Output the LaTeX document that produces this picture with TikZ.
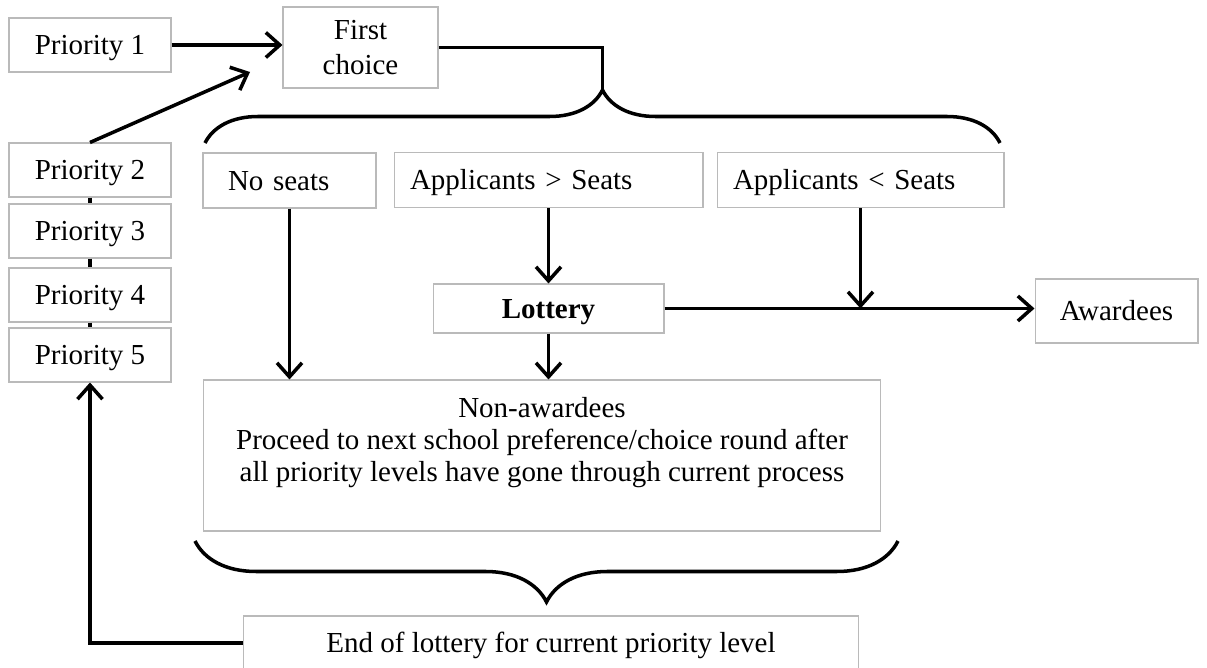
\documentclass[tikz,border=0pt]{standalone}
\usepackage{fontspec}
\setmainfont{Liberation Serif}
\usetikzlibrary{arrows.meta,decorations.pathreplacing}
\begin{document}
\begin{tikzpicture}[x=0.02cm, y=-0.02cm]

        % Styles
        \tikzstyle{box}=[draw=black!27, line width=0.6pt, inner sep=0pt, font=\fontsize{16.5}{19.5}\selectfont]
        \tikzstyle{one line}=[text height=13.4pt, text depth=2.5pt]
        \tikzstyle{priority}=[box, one line, minimum width=3.24cm, minimum height=1.08cm]
        \tikzstyle{case}=[box, one line, minimum height=1.1cm, align=left]
        \tikzstyle{important line}=[line width=2pt]
        \tikzstyle{flow}=[important line, -{Straight Barb[length=2.8mm,width=5mm]}]
        \tikzstyle{bracket}=[important line, decorate]
        %The graphic
        \useasboundingbox (0,0) rectangle (1207,668);
        % priority levels
        \node[priority] (p1) at (90,45) {Priority 1};
        \node[priority] (p2) at (90,170) {Priority 2};
        \node[priority] (p3) at (90,231) {Priority 3};
        \node[priority] (p4) at (90,295) {Priority 4};
        \node[priority] (p5) at (90,355) {Priority 5};
        \node[box, minimum width=3.1cm, minimum height=1.62cm, align=center] (first) at (360.5,47.5) {First\\choice};
        % cases
        \node[case, text width=2.46cm, inner xsep=0.5cm] (noseats) at (289.5,180.5) {No seats};
        \node[case, text width=5.54cm, inner xsep=0.32cm] (more) at (548.5,180) {Applicants > Seats};
        \node[case, text width=5.1cm, inner xsep=0.32cm] (fewer) at (860.5,180) {Applicants < Seats};
        \node[box, one line, minimum width=4.62cm, minimum height=0.98cm] (lottery) at (548.5,308.5) {\textbf{Lottery}};
        \node[box, one line, minimum width=3.26cm, minimum height=1.28cm] (award) at (1116.5,311) {Awardees};
        \node[box, minimum width=13.56cm, minimum height=3.02cm] (nonaward) at (542,455.5) {};
        \node[align=center, font=\fontsize{16.5}{18.2}\selectfont] (nonawardtext) at (542,443) {Non-awardees\\Proceed to next school preference/choice round after\\all priority levels have gone through current process};
        \node[box, one line, minimum width=12.32cm, minimum height=1.08cm] (endlot) at (551,643) {End of lottery for current priority level};

        % connectors
        \coordinate (firstin) at (250,72);
        \coordinate (toptip) at (602.5,90);
        \draw[flow] (p1.east) -- (p1.east -| first.west);
        \draw[flow] (p2.north) -- (firstin);
        \foreach \a/\b in {p2/p3,p3/p4,p4/p5}
            \draw[important line] (\a.south) -- (\b.north);
        \draw[important line] (first.east) -| (toptip);
        \draw[bracket, decoration={brace,amplitude=1.06cm}] (205,143) -- (1000,143);
        \draw[flow] (noseats.south) -- (noseats.south |- nonaward.north);
        \draw[flow] (more.south) -- (lottery.north);
        \draw[flow] (fewer.south) -- (fewer.south |- lottery.east);
        \draw[flow] (lottery.east) -- (lottery.east -| award.west);
        \draw[flow] (lottery.south) -- (lottery.south |- nonaward.north);
        \draw[bracket, decoration={brace,amplitude=1.22cm}] (898,541) -- (195,541);
        \draw[flow] (endlot.west) -| (p5.south);
\end{tikzpicture}
\end{document}
